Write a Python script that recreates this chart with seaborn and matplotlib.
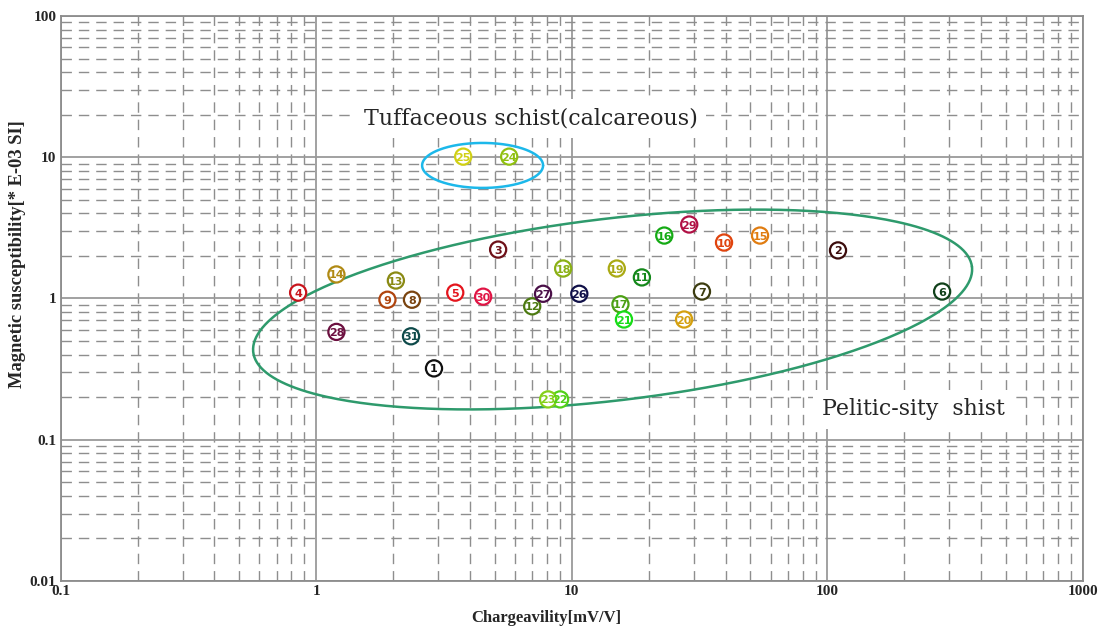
import numpy as np
import pandas as pd
import matplotlib
matplotlib.use("Agg")
import matplotlib.pyplot as plt
import seaborn as sns

# Sample numbers, chargeability [mV/V] and magnetic susceptibility [E-03 SI]
sample_ids = list(range(1, 32))
chargeability = [2.89, 110, 5.15, 0.85, 3.5, 281, 32.3, 2.37, 1.90, 39.4,
                 18.8, 7.0, 2.05, 1.2, 54.5, 23.0, 15.5, 9.25, 15.0, 27.5,
                 16.0, 9.0, 8.08, 5.69, 3.76, 10.7, 7.72, 1.2, 28.8, 4.5, 2.35]
susceptibility = [0.32, 2.19, 2.22, 1.10, 1.10, 1.12, 1.12, 0.98, 0.98, 2.49,
                  1.41, 0.88, 1.34, 1.48, 2.79, 2.79, 0.91, 1.63, 1.63, 0.71,
                  0.71, 0.193, 0.193, 10.1, 10.1, 1.08, 1.08, 0.58, 3.34, 1.03, 0.54]
sample_colors = ["#101010", "#3c0c0c", "#6e1018", "#c8141c", "#e4141c", "#10401a",
                 "#3c3c10", "#7a4410", "#b0440e", "#e0440e", "#14881a", "#4c7a10",
                 "#8a8a14", "#b08a14", "#e07c10", "#14aa14", "#4ca014", "#8ab014",
                 "#aaaa14", "#d4a010", "#18dc18", "#50d018", "#84d018", "#90c010",
                 "#d0d014", "#101048", "#4a1048", "#6c1040", "#b01044", "#e01444",
                 "#0e4a4a"]

x_ticks = [0.1, 1, 10, 100, 1000]
x_tick_labels = ["0.1", "1", "10", "100", "1000"]
y_ticks = [0.01, 0.1, 1, 10, 100]
y_tick_labels = ["0.01", "0.1", "1", "10", "100"]

df = pd.DataFrame({"id": [str(i) for i in sample_ids],
                   "charge": chargeability,
                   "sus": susceptibility})

sns.set_theme(style="white")
plt.rcParams["font.family"] = ["Liberation Serif", "DejaVu Serif"]

fig = plt.figure(figsize=(11.09, 6.32), dpi=100)
ax = fig.add_axes([0.0546, 0.0807, 0.922, 0.894])
ax.set_xscale("log")
ax.set_yscale("log")
ax.set_xlim(0.1, 1000)
ax.set_ylim(0.01, 100)

# grid: solid at decades, dashed at the in-between values
ax.grid(True, which="major", color="#9a9a9a", linewidth=1.3, linestyle="-", zorder=0)
ax.grid(True, which="minor", color="#8e8e8e", linewidth=1.0,
        linestyle=(0, (7.5, 5)), zorder=0)
ax.set_axisbelow(True)
for sp in ax.spines.values():
    sp.set_color("#8c8c8c")
    sp.set_linewidth(1.3)

# group outlines drawn as ellipses in log space
def log_ellipse(cx, cy, a, b, theta_deg, xdec, ydec, n=400):
    t = np.linspace(0, 2 * np.pi, n)
    th = np.deg2rad(theta_deg)
    dx = a * np.cos(t) * np.cos(th) - b * np.sin(t) * np.sin(th)
    dy = a * np.cos(t) * np.sin(th) + b * np.sin(t) * np.cos(th)
    return 10 ** (cx + dx / xdec), 10 ** (cy + dy / ydec)

xdec, ydec = 255.7, 141.3
ex, ey = log_ellipse(1.1596, -0.078, 362, 91, 6.78, xdec, ydec)
ax.plot(ex, ey, color="#2e9a6c", linewidth=1.8, zorder=2)
ex2, ey2 = log_ellipse(0.651, 0.942, 60.5, 22.5, 0, xdec, ydec)
ax.plot(ex2, ey2, color="#1cb8ea", linewidth=1.8, zorder=2)

sns.scatterplot(data=df, x="charge", y="sus", hue="id",
                palette=sample_colors, marker="o", s=135,
                linewidth=1.6, legend=False, ax=ax, zorder=3)
for coll in ax.collections:
    ec = coll.get_facecolors()
    coll.set_edgecolors(ec)
    coll.set_facecolors("white")

for sid, xv, yv, c in zip(sample_ids, chargeability, susceptibility, sample_colors):
    ax.text(xv, yv, str(sid), color=c, fontsize=8, fontweight="bold",
            family="DejaVu Sans", ha="center", va="center_baseline", zorder=4)

ax.set_xticks(x_ticks)
ax.set_xticklabels(x_tick_labels)
ax.set_yticks(y_ticks)
ax.set_yticklabels(y_tick_labels)
ax.tick_params(axis="both", which="both", length=0, labelsize=11, pad=3)
for lab in ax.get_xticklabels() + ax.get_yticklabels():
    lab.set_fontweight("bold")

ax.set_xlabel("Chargeavility[mV/V]", fontsize=12, fontweight="bold")
ax.xaxis.set_label_coords(0.475, -0.052)
ax.set_ylabel("Magnetic susceptibility[* E-03 SI]", fontsize=13.3,
              fontweight="bold")
ax.yaxis.set_label_coords(-0.034, 0.579)

box = dict(facecolor="white", edgecolor="none", pad=6)
ax.text(10 ** ((531 - 316) / xdec), 10 ** ((299 - 119) / ydec),
        "Tuffaceous schist(calcareous)", fontsize=15.9, family="DejaVu Serif",
        ha="center", va="center", bbox=box, zorder=5)
ax.text(10 ** ((913 - 316) / xdec), 10 ** ((299 - 410) / ydec),
        "Pelitic-sity  shist", fontsize=15.8, family="DejaVu Serif",
        ha="center", va="center", bbox=box, zorder=5)

fig.savefig("out.png", dpi=100)
